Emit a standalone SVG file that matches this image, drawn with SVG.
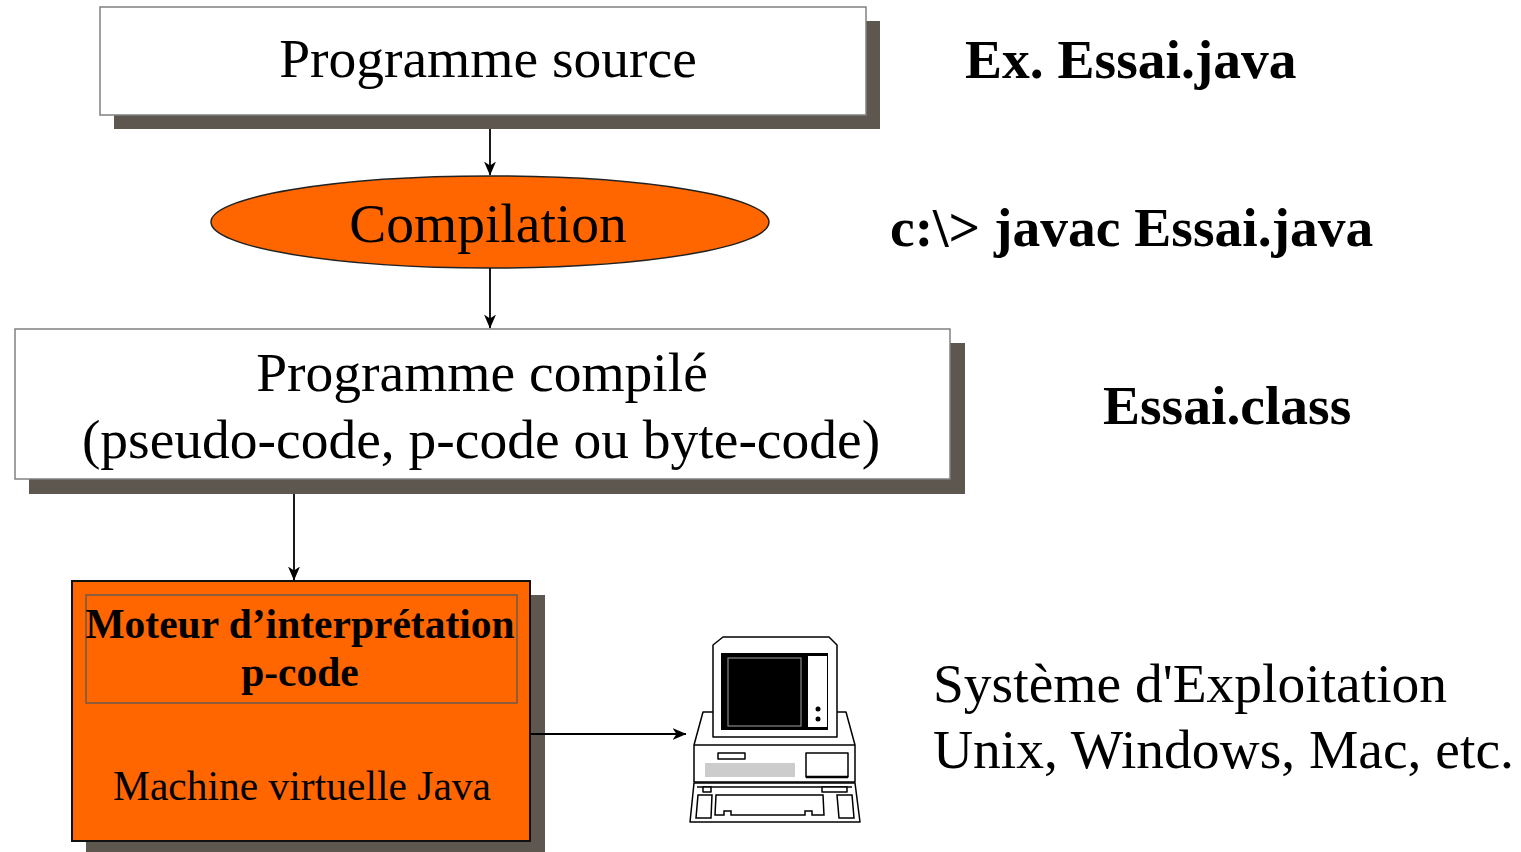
<svg xmlns="http://www.w3.org/2000/svg" width="1521" height="852" viewBox="0 0 1521 852">
  <style>
    .txt { font-family: "Liberation Serif", "Times New Roman", serif; fill: #000; }
    .big { font-size: 55.5px; }
    .mid { font-size: 41.5px; }
    .bold { font-weight: bold; }
    .box { fill: #fff; stroke: #808080; stroke-width: 1.5; }
    .shadow { fill: #5e574f; }
    .orange { fill: #ff6600; }
    .edge { stroke: #000; stroke-width: 1.5; fill: none; }
    .conn { stroke: #000; stroke-width: 1.8; fill: none; }
    .ink { stroke: #000; stroke-width: 1.5; fill: #fff; stroke-linejoin: round; }
  </style>
  <defs>
    <marker id="arrow" viewBox="0 0 14 12" refX="13.5" refY="6" markerWidth="14" markerHeight="12" markerUnits="userSpaceOnUse" orient="auto">
      <path d="M0,0 L14,6 L0,12 L4,6 z" fill="#000"/>
    </marker>
  </defs>

  <rect width="1521" height="852" fill="#fff"/>

  <!-- source program -->
  <g id="source">
    <rect class="shadow" x="114" y="21" width="766" height="108"/>
    <rect class="box" x="100" y="7" width="766" height="108"/>
    <text class="txt big" x="488" y="77" text-anchor="middle">Programme source</text>
  </g>

  <!-- compilation step -->
  <g id="compilation">
    <ellipse class="orange" cx="490" cy="222" rx="279" ry="46" stroke="#222" stroke-width="1.5"/>
    <text class="txt big" x="488" y="242" text-anchor="middle">Compilation</text>
  </g>

  <!-- compiled program -->
  <g id="compiled">
    <rect class="shadow" x="29" y="343" width="936" height="151"/>
    <rect class="box" x="15" y="329" width="935" height="150"/>
    <text class="txt big" x="482" y="391" text-anchor="middle">Programme compilé</text>
    <text class="txt big" x="481" y="458" text-anchor="middle">(pseudo-code, p-code ou byte-code)</text>
  </g>

  <!-- virtual machine -->
  <g id="jvm">
    <rect class="shadow" x="86" y="595" width="459" height="257"/>
    <rect class="orange" x="72" y="581" width="458" height="260" stroke="#111" stroke-width="2"/>
    <rect x="86" y="595" width="431" height="108" fill="none" stroke="#6b5a4e" stroke-width="1.5"/>
    <text class="txt mid bold" x="300" y="638" text-anchor="middle">Moteur d’interprétation</text>
    <text class="txt mid bold" x="300" y="686" text-anchor="middle">p-code</text>
    <text class="txt mid" x="302" y="800" text-anchor="middle">Machine virtuelle Java</text>
  </g>

  <!-- computer -->
  <g id="computer">
    <!-- base unit -->
    <path class="ink" d="M703,712 L846,712 L855,745 L855,782 L694,782 L694,745 Z"/>
    <line class="edge" x1="694" y1="745" x2="855" y2="745"/>
    <rect class="ink" x="718" y="753" width="27" height="6" stroke-width="1.2"/>
    <rect x="705" y="763" width="90" height="14" fill="#cccccc"/>
    <rect class="ink" x="806" y="753" width="42" height="24" stroke-width="1.2"/>
    <line x1="806" y1="777" x2="848" y2="777" stroke="#000" stroke-width="2.5"/>
    <!-- monitor -->
    <path class="ink" d="M723,637 L829,637 L837,645 L837,737 L713,737 L713,645 Z"/>
    <rect x="721" y="653" width="107" height="77" fill="#000"/>
    <rect x="808" y="656" width="19" height="71" fill="#fff"/>
    <rect x="728" y="658" width="73" height="68" fill="#000" stroke="#888" stroke-width="1.2"/>
    <circle cx="818" cy="709" r="2.5" fill="#000"/>
    <circle cx="818" cy="719" r="2.5" fill="#000"/>
    <!-- keyboard -->
    <path class="ink" d="M694,783 L855,783 L860,822 L690,822 Z"/>
    <path class="edge" d="M697,787 L852,787" stroke-width="1"/>
    <rect class="ink" x="703" y="787" width="8" height="5" stroke-width="1"/>
    <rect class="ink" x="822" y="787" width="25" height="5" stroke-width="1"/>
    <path class="edge" stroke-width="1.2" d="M698,795 L712,795 L711,818 L696,818 Z"/>
    <path class="edge" stroke-width="1.2" d="M837,795 L852,795 L854,818 L839,818 Z"/>
    <path class="edge" stroke-width="1.2" d="M716,795 L823,795 L824,815 L812,815 L812,811 L805,811 L805,815 L731,815 L731,811 L724,811 L724,815 L715,815 Z"/>
  </g>

  <!-- side notes -->
  <g id="notes">
    <text class="txt big bold" x="965" y="78">Ex. Essai.java</text>
    <text class="txt big bold" x="890" y="246">c:\&gt; javac Essai.java</text>
    <text class="txt big bold" x="1103" y="424">Essai.class</text>
    <text class="txt big" x="933" y="702">Système d'Exploitation</text>
    <text class="txt big" x="933" y="768">Unix, Windows, Mac, etc.</text>
  </g>

  <!-- connectors -->
  <g id="connectors">
    <line class="conn" x1="490" y1="129" x2="490" y2="175" marker-end="url(#arrow)"/>
    <line class="conn" x1="490" y1="268" x2="490" y2="328" marker-end="url(#arrow)"/>
    <line class="conn" x1="294" y1="494" x2="294" y2="580" marker-end="url(#arrow)"/>
    <line class="conn" x1="530" y1="734" x2="686" y2="734" marker-end="url(#arrow)"/>
  </g>
</svg>
